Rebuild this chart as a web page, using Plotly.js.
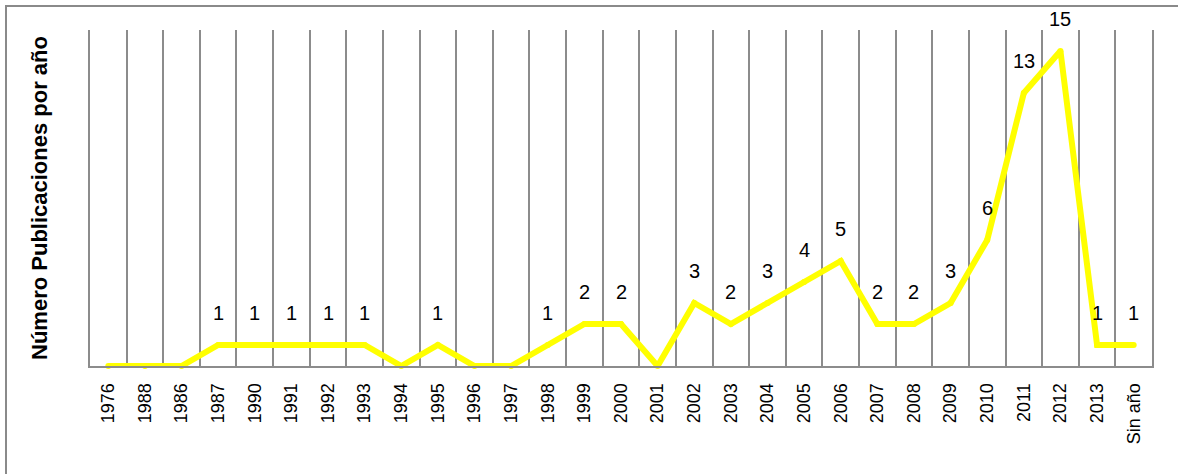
<!DOCTYPE html>
<html>
<head>
<meta charset="utf-8">
<script src="https://cdn.plot.ly/plotly-3.0.1.min.js"></script>
<style>
  html, body { margin: 0; padding: 0; background: #fff; }
  #wrap { position: relative; width: 1178px; height: 474px; overflow: hidden; }
  #chart { position: absolute; left: 0; top: 0; width: 1178px; height: 474px; }
  #frame { position: absolute; left: 5px; top: 5px; width: 1200px; height: 500px;
           border-left: 2px solid #8a8a8a; border-top: 2px solid #8a8a8a; pointer-events: none; }
</style>
</head>
<body>
<div id="wrap">
  <div id="chart"></div>
  <div id="frame"></div>
</div>
<script>
const categories = ["1976","1988","1986","1987","1990","1991","1992","1993","1994","1995","1996","1997","1998","1999","2000","2001","2002","2003","2004","2005","2006","2007","2008","2009","2010","2011","2012","2013","Sin año"];
const publicaciones = [0,0,0,1,1,1,1,1,0,1,0,0,1,2,2,0,3,2,3,4,5,2,2,3,6,13,15,1,1];
const yTitle = "Número Publicaciones por año";

const labelFont = { family: "Liberation Sans, Arial, sans-serif", size: 20, color: "#000" };

const annotations = [];
categories.forEach((c, i) => {
  const v = publicaciones[i];
  if (v > 0) {
    annotations.push({
      x: i, y: v, xref: "x", yref: "y",
      text: String(v), showarrow: false,
      yshift: 32, font: labelFont
    });
  }
});

const trace = {
  x: categories,
  y: publicaciones,
  type: "scatter",
  mode: "lines+markers",
  line: { color: "#ffff00", width: 6 },
  marker: { color: "#ffff00", size: 6 },
  hoverinfo: "x+y",
  cliponaxis: false
};

const layout = {
  width: 1178, height: 474,
  margin: { l: 90, r: 26, t: 30, b: 108, pad: 0 },
  paper_bgcolor: "#fff", plot_bgcolor: "#fff",
  showlegend: false,
  xaxis: {
    type: "category",
    categoryorder: "array", categoryarray: categories,
    range: [-0.5, categories.length - 0.5],
    tickson: "boundaries",
    showgrid: true, gridcolor: "#8c8c8c", gridwidth: 2,
    showline: true, linecolor: "#8c8c8c", linewidth: 2,
    ticks: "", tickangle: -90, ticklabelstandoff: 8,
    tickfont: { family: "Liberation Sans, Arial, sans-serif", size: 18, color: "#000" },
    automargin: false, fixedrange: true
  },
  yaxis: {
    range: [0, 16],
    showgrid: false, zeroline: false, showticklabels: false, ticks: "",
    showline: true, mirror: true, linecolor: "#8c8c8c", linewidth: 2,
    title: { text: yTitle, font: { family: "Liberation Sans, Arial, sans-serif", size: 22, color: "#000", weight: "bold" }, standoff: 34 },
    automargin: false, fixedrange: true
  },
  annotations: annotations
};

Plotly.newPlot("chart", [trace], layout, { displayModeBar: false, staticPlot: true });
</script>
</body>
</html>
